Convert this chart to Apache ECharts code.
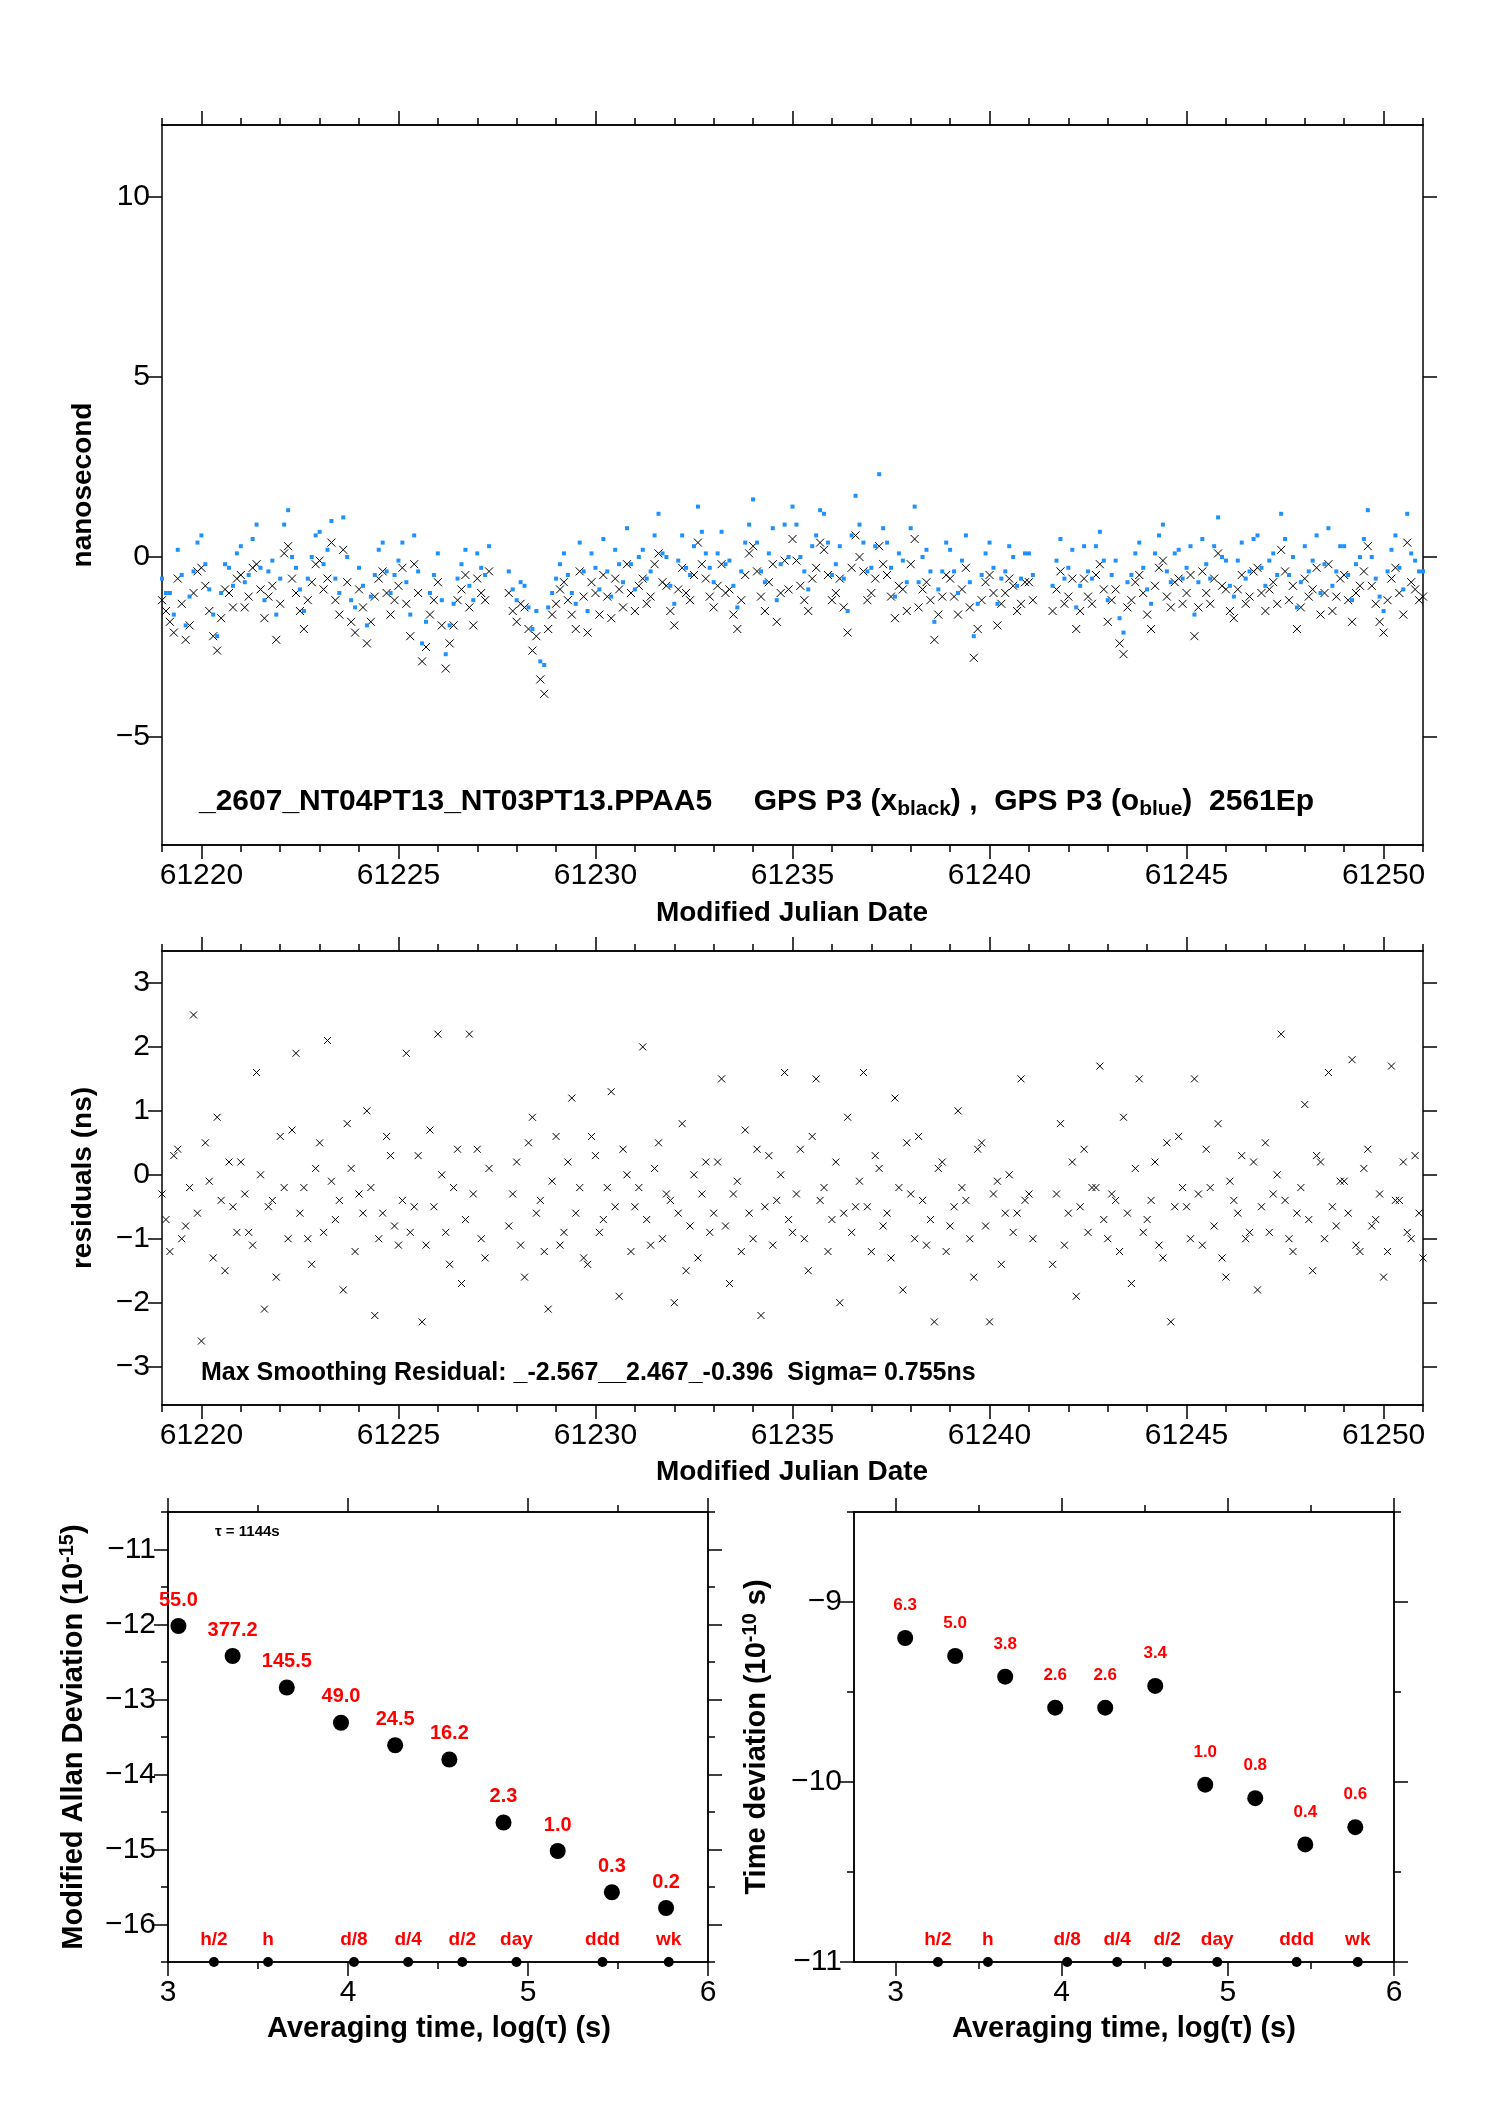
<!DOCTYPE html>
<html><head><meta charset="utf-8">
<script src="https://cdn.jsdelivr.net/npm/echarts@6/dist/echarts.min.js"></script>
<style>html,body{margin:0;padding:0;background:#fff}#c{width:1488px;height:2105px}</style>
</head><body><div id="c"></div>
<script>
// ---- data ----
const mjdStart = 61219.0, mjdStep = 0.2, mjdStartB = 61219.1;
const clockBlack = [
-1.2,-1.8,-0.6,-2.3,-1.0,-0.3,-1.5,-2.6,-0.9,-1.4,
-0.5,-1.1,-0.2,-1.7,-0.8,-1.3,0.3,-1.0,-2.0,-0.7,
-0.1,-0.6,-1.2,0.2,-1.8,-0.9,-2.4,-1.1,-0.4,-1.6,
-0.8,-1.3,-0.2,-2.9,-1.6,-0.7,-3.1,-1.9,-0.9,-1.4,
-0.6,-1.2,null,null,-1.0,-1.8,-1.4,-2.6,-3.4,-2.0,
-1.3,-0.7,-1.6,-0.4,-2.1,-1.0,-0.5,-1.7,-0.9,-0.2,
-1.5,-0.6,-1.1,0.1,-0.8,-1.9,-0.3,-1.2,0.4,-0.6,
-1.4,-0.2,-0.9,-2.0,-0.5,0.3,-1.1,-0.7,-1.8,-0.1,
0.5,-0.8,-1.5,-0.3,0.2,-1.2,-0.6,-2.1,0.6,-0.4,
-1.0,0.3,-0.5,-1.7,-0.9,-0.2,-1.4,-0.7,-2.3,-1.1,
-0.6,-1.6,-0.3,-2.8,-1.2,-0.5,-1.9,-1.0,-0.8,-1.3,
-0.7,null,null,-1.5,-0.4,-1.1,-2.0,-0.6,-1.3,-0.2,
-1.8,-0.9,-2.7,-1.2,-0.5,-1.6,-0.8,-0.1,-1.4,-0.6,
-1.0,-2.2,-0.4,-1.3,0.1,-0.9,-1.7,-0.5,-1.1,-0.3,
-1.5,-0.7,0.2,-1.2,-2.0,-0.6,-0.9,-1.6,-0.2,-1.1,
-0.5,-1.8,-0.8,0.3,-1.3,-2.1,-0.6,-1.0,0.4,-0.9,
-1.1];
const clockBlackB = [
-1.5,-2.1,-1.3,-1.9,-0.4,-0.8,-2.2,-1.7,-1.0,-0.6,
-1.4,-0.3,-0.9,-1.1,-2.3,0.1,-0.6,-1.5,-1.2,-0.2,
-0.9,0.4,-1.6,-0.7,-2.1,-1.4,-1.8,-0.6,-1.0,-1.2,
-0.3,-2.2,-1.0,-2.5,-1.2,-1.9,-2.4,-1.2,-0.5,-1.9,
-1.0,-0.4,null,null,-1.5,-1.3,-2.0,-2.2,-3.8,-1.6,
-0.9,-1.2,-2.0,-1.1,-0.7,-1.6,-1.1,-0.6,-1.4,-1.0,
-0.8,-1.3,-0.2,-0.7,-1.5,-0.9,-1.0,-0.5,-0.2,-1.1,
-0.8,-1.0,-1.6,-1.2,0.1,-0.4,-1.5,-0.2,-1.0,-0.9,
-0.1,-1.2,-0.6,0.4,-0.5,-1.0,-1.4,-0.3,0.0,-1.2,
-0.6,-0.2,-1.1,-0.8,-1.5,0.5,-0.9,-1.2,-1.6,-0.5,
-1.1,-0.9,-1.4,-2.0,-0.7,-1.0,-1.3,-0.6,-1.5,-0.7,
-1.2,null,null,-0.9,-1.3,-0.6,-1.5,-1.1,-0.5,-0.9,
-1.2,-2.4,-1.4,-0.7,-1.0,-2.0,-0.3,-1.1,-0.7,-1.3,
-0.5,-1.4,-1.0,-0.6,-0.8,-1.5,-0.9,-1.3,-0.4,-1.0,
-0.9,-1.3,-0.4,-0.8,-1.4,-1.1,-0.3,-1.0,-1.5,-0.6,
-1.2,-1.0,-0.4,-0.8,-1.8,-1.2,-0.3,-1.6,-0.7,-1.2];
const clockBlue = [
-0.6,-1.0,0.2,-1.9,-0.4,0.6,-0.9,-2.2,-0.2,-0.8,
0.3,-0.5,0.9,-1.2,-0.1,-0.6,1.3,-0.3,-1.5,0.0,
0.7,0.2,-0.6,1.1,-1.2,-0.3,-1.9,-0.5,0.4,-1.0,
-0.1,-0.7,0.6,-2.4,-1.0,0.1,-2.7,-1.3,-0.2,-0.8,
0.1,-0.5,null,null,-0.4,-1.2,-0.8,-2.0,-2.9,-1.4,
-0.6,0.1,-1.0,0.4,-1.5,-0.3,0.5,-1.1,-0.2,0.8,
-0.9,0.2,-0.4,1.2,0.0,-1.3,0.6,-0.5,1.4,0.1,
-0.7,0.7,-0.1,-1.4,0.4,1.6,-0.4,0.1,-1.2,0.9,
1.4,0.0,-0.9,0.6,1.2,-0.5,0.3,-1.5,1.7,0.4,
-0.3,2.3,0.4,-1.1,-0.1,0.8,-0.7,0.2,-1.8,-0.4,
0.2,-1.0,0.6,-2.2,-0.5,0.4,-1.3,-0.4,0.0,-0.6,
0.1,null,null,-0.8,0.5,-0.3,-1.4,0.3,-0.6,0.7,
-1.2,-0.1,-2.1,-0.5,0.4,-0.9,0.1,0.9,-0.7,0.2,
-0.3,-1.6,0.5,-0.6,1.1,-0.1,-1.1,0.4,-0.4,0.6,
-0.8,0.1,1.2,-0.5,-1.4,0.3,-0.1,-1.0,0.8,-0.4,
0.3,-1.2,0.0,1.3,-0.6,-1.5,0.2,-0.3,1.2,-0.1,
-0.4];
const clockBlueB = [
-1.0,-1.6,-0.5,-1.1,0.4,-0.2,-1.6,-1.0,-0.3,0.1,
-0.7,0.5,-0.3,-0.4,-1.6,0.9,0.0,-0.9,-0.6,0.6,
-0.2,1.0,-1.0,0.0,-1.4,-0.8,-1.1,0.2,-0.4,-0.5,
0.4,-1.6,-0.4,-1.8,-0.5,-1.2,-1.9,-0.6,0.2,-1.2,
-0.3,0.3,null,null,-0.9,-0.7,-1.4,-1.5,-3.0,-1.0,
-0.2,-0.5,-1.3,-0.4,0.1,-0.9,-0.4,0.2,-0.7,-0.2,
0.0,-0.6,0.6,0.1,-0.8,-0.1,-0.3,0.3,0.7,-0.3,
0.1,-0.2,-0.8,-0.4,0.9,0.4,-0.7,0.8,-0.2,0.0,
0.9,-0.4,0.3,1.3,0.4,-0.2,-0.6,0.6,0.9,-0.4,
0.3,0.8,-0.3,0.1,-0.7,1.4,0.0,-0.4,-0.9,0.4,
-0.4,-0.1,-0.7,-1.3,0.1,-0.3,-0.6,0.3,-0.8,0.1,
-0.5,null,null,-0.1,-0.6,0.2,-0.8,-0.4,0.3,-0.1,
-0.5,-1.7,-0.7,0.1,-0.3,-1.3,0.6,-0.4,0.1,-0.6,
0.3,-0.7,-0.2,0.3,0.0,-0.8,-0.1,-0.6,0.5,-0.3,
-0.1,-0.5,0.5,0.0,-0.7,-0.4,0.6,-0.2,-0.8,0.3,
-0.5,-0.2,0.5,0.0,-1.1,-0.4,0.6,-0.9,0.1,-0.4];
const residuals = [
-0.3,-1.2,0.4,-0.8,2.5,-2.6,-0.1,0.9,-1.5,-0.5,
0.2,-0.9,1.6,-2.1,-0.4,0.6,-1.0,1.9,-0.2,-1.4,
0.5,2.1,-0.7,-1.8,0.1,-0.3,1.0,-2.2,-0.6,0.3,
-1.1,1.9,-0.5,-2.3,0.7,2.2,-0.9,-0.2,-1.7,2.2,
0.4,-1.3,null,null,-0.8,0.2,-1.6,0.9,-0.4,-2.1,
0.6,-0.9,1.2,-0.2,-1.4,0.3,-0.7,1.3,-1.9,0.0,
-0.5,2.0,-1.1,0.5,-0.3,-2.0,0.8,-0.8,-1.3,0.2,
-0.6,1.5,-1.7,-0.1,0.7,-1.0,-2.2,0.3,-0.4,1.6,
-0.9,0.4,-1.5,1.5,-0.2,-0.7,-2.0,0.9,-0.5,1.6,
-1.2,0.1,-0.6,1.2,-1.8,-0.3,0.6,-1.1,-2.3,0.2,
-0.8,1.0,-0.4,-1.6,0.5,-2.3,-0.1,-0.6,-0.9,1.5,
-0.3,null,null,-1.4,0.8,-0.6,-1.9,0.4,-0.2,1.7,
-1.0,-0.4,0.9,-1.7,1.5,-0.7,0.2,-1.3,-2.3,0.6,
-0.5,1.5,-1.1,-0.2,0.8,-1.6,-0.4,0.3,-0.9,-1.8,
0.5,-0.3,2.2,-1.0,-0.6,1.1,-1.5,0.2,1.6,-0.8,
-0.1,1.8,-1.2,0.4,-0.7,-1.6,1.7,-0.4,-0.9,0.3,
-1.3];
const residualsB = [
-0.7,0.3,-1.0,-0.2,-0.6,0.5,-1.3,-0.4,0.2,-0.9,
-0.3,-1.1,0.0,-0.5,-1.6,-0.2,0.7,-0.6,-1.0,0.1,
-0.9,-0.1,-0.4,0.8,-1.2,-0.6,-0.2,-1.0,0.6,-0.8,
-0.4,-0.9,0.3,-1.1,-0.5,0.0,-1.4,0.4,-0.7,-0.3,
-1.0,0.1,null,null,-0.3,-1.1,0.5,-0.6,-1.2,-0.1,
-1.1,0.2,-0.6,-1.3,0.6,-0.9,-0.2,-0.5,0.4,-1.2,
-0.2,-0.7,0.1,-1.0,-0.4,-0.6,-1.5,0.0,-0.3,-0.9,
0.2,-0.8,-0.3,-1.2,-0.6,0.4,-0.5,-1.1,0.0,-0.7,
-0.3,-1.0,0.6,-0.4,-1.2,0.2,-0.6,-0.9,-0.1,-0.5,
0.3,-0.8,-1.3,-0.2,0.5,-1.0,-0.4,-0.7,0.1,-1.2,
-0.5,-0.2,-1.0,0.4,-0.8,-0.3,-1.4,0.0,-0.6,-0.4,
-1.0,null,null,-0.3,-1.1,0.2,-0.5,-0.9,-0.2,-0.7,
-0.3,-1.2,-0.6,0.1,-0.9,-0.4,-1.1,0.5,-0.5,-0.2,
-1.0,-0.3,0.4,-0.8,-1.3,-0.1,-0.6,-1.0,0.2,-0.5,
-0.9,0.0,-0.4,-1.2,-0.2,-0.7,0.3,-1.0,-0.5,-0.1,
-0.6,-1.1,0.1,-0.8,-0.3,-1.2,-0.4,0.2,-1.0,-0.6];
const logTau = [3.058,3.359,3.660,3.961,4.262,4.563,4.864,5.165,5.466,5.767];
const madev = [-12.02,-12.42,-12.84,-13.31,-13.61,-13.80,-14.64,-15.02,-15.57,-15.78];
const madevLabels = ['55.0','377.2','145.5','49.0','24.5','16.2','2.3','1.0','0.3','0.2'];
const tdev = [-9.20,-9.30,-9.415,-9.587,-9.587,-9.466,-10.015,-10.09,-10.347,-10.251];
const tdevLabels = ['6.3','5.0','3.8','2.6','2.6','3.4','1.0','0.8','0.4','0.6'];
const markNames = ['h/2','h','d/8','d/4','d/2','day','ddd','wk'];
const markLogTau = [3.255,3.556,4.033,4.334,4.635,4.936,5.414,5.782];

// ---- build ----
const FONT = 'Liberation Sans, Arial, sans-serif';
const toPairs = (arr, start) => arr.map((v,i)=>[+(start+i*mjdStep).toFixed(2), v]).filter(p=>p[1]!==null);
const crossSym = 'path://M0,0L10,10M10,0L0,10';
const L = {color:'#000', width:1.5};

const grids = [
  {left:162, top:125, width:1261, height:720},
  {left:162, top:951, width:1261, height:454},
  {left:168, top:1512, width:540, height:450},
  {left:854, top:1512, width:540, height:450}
];
const xAxes = [], yAxes = [];
function xPair(g, min, max, major, minor, labels){
  const base = {gridIndex:g, type:'value', min, max, splitLine:{show:false}, axisLine:{onZero:false, lineStyle:L}};
  xAxes.push(Object.assign({}, base, {position:'bottom', axisTick:{customValues:major, length:14, lineStyle:L},
    axisLabel:{customValues:labels?major:[], color:'#000', fontSize:30, fontFamily:FONT, margin:16, formatter:v=>String(v)}}));
  xAxes.push(Object.assign({}, base, {position:'top', axisTick:{customValues:major, length:14, lineStyle:L}, axisLabel:{show:false}}));
  if (minor){
    xAxes.push(Object.assign({}, base, {position:'bottom', axisTick:{customValues:minor, length:7, lineStyle:L}, axisLabel:{show:false}}));
    xAxes.push(Object.assign({}, base, {position:'top', axisTick:{customValues:minor, length:7, lineStyle:L}, axisLabel:{show:false}}));
  }
}
function yPair(g, min, max, major, minor){
  const base = {gridIndex:g, type:'value', min, max, splitLine:{show:false}, axisLine:{onZero:false, lineStyle:L}};
  yAxes.push(Object.assign({}, base, {position:'left', axisTick:{customValues:major, length:14, lineStyle:L},
    axisLabel:{customValues:major, color:'#000', fontSize:30, fontFamily:FONT, margin:12, formatter:v=>String(v).replace('-','\u2212')}}));
  yAxes.push(Object.assign({}, base, {position:'right', axisTick:{customValues:major, length:14, lineStyle:L}, axisLabel:{show:false}}));
  if (minor){
    yAxes.push(Object.assign({}, base, {position:'left', axisTick:{customValues:minor, length:7, lineStyle:L}, axisLabel:{show:false}}));
    yAxes.push(Object.assign({}, base, {position:'right', axisTick:{customValues:minor, length:7, lineStyle:L}, axisLabel:{show:false}}));
  }
}
const days = []; for (let d=61219; d<=61251; d++) if (d%5) days.push(d);
const mjdMajor = [61220,61225,61230,61235,61240,61245,61250];
xPair(0, 61219, 61251, mjdMajor, days, true);
yPair(0, -8, 12, [-5,0,5,10], null);
xPair(1, 61219, 61251, mjdMajor, days, true);
yPair(1, -3.6, 3.5, [-3,-2,-1,0,1,2,3], null);
xPair(2, 3, 6, [3,4,5,6], [3.5,4.5,5.5], true);
yPair(2, -16.5, -10.5, [-16,-15,-14,-13,-12,-11], [-16.5,-15.5,-14.5,-13.5,-12.5,-11.5,-10.5]);
xPair(3, 2.75, 6, [3,4,5,6], [3.5,4.5,5.5], true);
yPair(3, -11, -8.5, [-11,-10,-9], [-10.5,-9.5,-8.5]);

const redLbl = (fs)=>({show:true, position:'top', distance:8, color:'#ff0000', fontWeight:'bold', fontSize:fs, fontFamily:FONT});
const xStyle = {color:'rgba(0,0,0,0)', borderColor:'#000', borderWidth:1, opacity:1};
const series = [
  {type:'scatter', xAxisIndex:0, yAxisIndex:0, data:toPairs(clockBlack, mjdStart).concat(toPairs(clockBlackB, mjdStartB)), symbol:crossSym, symbolSize:8, itemStyle:xStyle},
  {type:'scatter', xAxisIndex:0, yAxisIndex:0, data:toPairs(clockBlue, mjdStart).concat(toPairs(clockBlueB, mjdStartB)), symbol:'rect', symbolSize:4, itemStyle:{color:'#1e90ff', opacity:1}},
  {type:'scatter', xAxisIndex:4, yAxisIndex:2, data:toPairs(residuals, mjdStart).concat(toPairs(residualsB, mjdStartB)), symbol:crossSym, symbolSize:7, itemStyle:xStyle},
  {type:'scatter', xAxisIndex:8, yAxisIndex:4, data:logTau.map((x,i)=>({value:[x,madev[i]], label:{formatter:madevLabels[i]}})),
   symbolSize:16, itemStyle:{color:'#000', opacity:1}, label:redLbl(20)},
  {type:'scatter', xAxisIndex:8, yAxisIndex:4, data:markLogTau.map((x,i)=>({value:[x,-16.5], label:{formatter:markNames[i]}})),
   symbolSize:10, itemStyle:{color:'#000', opacity:1}, label:redLbl(19)},
  {type:'scatter', xAxisIndex:12, yAxisIndex:8, data:logTau.map((x,i)=>({value:[x,tdev[i]], label:{formatter:tdevLabels[i]}})),
   symbolSize:16, itemStyle:{color:'#000', opacity:1}, label:Object.assign(redLbl(17),{distance:16})},
  {type:'scatter', xAxisIndex:12, yAxisIndex:8, data:markLogTau.map((x,i)=>({value:[x,-11], label:{formatter:markNames[i]}})),
   symbolSize:10, itemStyle:{color:'#000', opacity:1}, label:redLbl(19)}
];

const tb = {fontFamily:FONT, fontWeight:'bold', fill:'#000'};
const graphic = [
  {type:'text', x:83, y:485, rotation:Math.PI/2, style:Object.assign({text:'nanosecond', fontSize:28, align:'center', verticalAlign:'middle'}, tb)},
  {type:'text', x:792, y:913, style:Object.assign({text:'Modified Julian Date', fontSize:28, align:'center', verticalAlign:'middle'}, tb)},
  {type:'text', x:83, y:1178, rotation:Math.PI/2, style:Object.assign({text:'residuals (ns)', fontSize:28, align:'center', verticalAlign:'middle'}, tb)},
  {type:'text', x:792, y:1472, style:Object.assign({text:'Modified Julian Date', fontSize:28, align:'center', verticalAlign:'middle'}, tb)},
  {type:'text', x:199, y:802, style:Object.assign({text:'_2607_NT04PT13_NT03PT13.PPAA5     GPS P3 (x{s|black}) ,  GPS P3 (o{s|blue})  2561Ep',
     fontSize:30, verticalAlign:'middle', rich:{s:{fontSize:21, fontWeight:'bold', fontFamily:FONT, padding:[14,0,0,0]}}}, tb)},
  {type:'text', x:201, y:1373, style:Object.assign({text:'Max Smoothing Residual: _-2.567__2.467_-0.396  Sigma= 0.755ns', fontSize:25, verticalAlign:'middle'}, tb)},
  {type:'text', x:215, y:1532, style:Object.assign({text:'\u03c4 = 1144s', fontSize:15, verticalAlign:'middle'}, tb)},
  {type:'text', x:74, y:1737, rotation:Math.PI/2, style:Object.assign({text:'Modified Allan Deviation (10{p|-15})', fontSize:29, align:'center', verticalAlign:'middle',
     rich:{p:{fontSize:20, fontWeight:'bold', fontFamily:FONT, padding:[0,0,14,0]}}}, tb)},
  {type:'text', x:757, y:1737, rotation:Math.PI/2, style:Object.assign({text:'Time deviation (10{p|-10} s)', fontSize:29, align:'center', verticalAlign:'middle',
     rich:{p:{fontSize:20, fontWeight:'bold', fontFamily:FONT, padding:[0,0,14,0]}}}, tb)},
  {type:'text', x:439, y:2029, style:Object.assign({text:'Averaging time, log(\u03c4) (s)', fontSize:29, align:'center', verticalAlign:'middle'}, tb)},
  {type:'text', x:1124, y:2029, style:Object.assign({text:'Averaging time, log(\u03c4) (s)', fontSize:29, align:'center', verticalAlign:'middle'}, tb)}
];

const chart = echarts.init(document.getElementById('c'), null, {renderer:'canvas'});
chart.setOption({backgroundColor:'#fff', animation:false, grid:grids, xAxis:xAxes, yAxis:yAxes, series, graphic});
</script></body></html>
